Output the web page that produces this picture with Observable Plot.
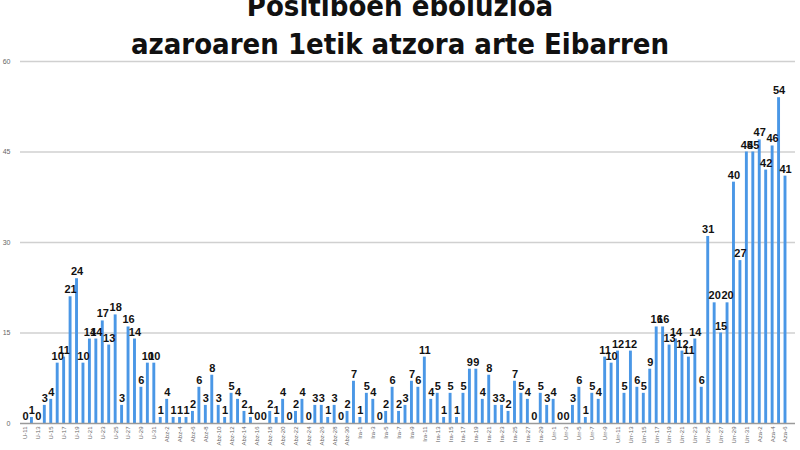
<!DOCTYPE html>
<html>
<head>
<meta charset="utf-8">
<script src="https://cdn.jsdelivr.net/npm/d3@7"></script>
<script src="https://cdn.jsdelivr.net/npm/@observablehq/plot@0.6"></script>
<style>
  body { margin: 0; background: #fff; }
  #wrap { position: relative; width: 800px; height: 450px; overflow: hidden; }
  #title {
    position: absolute; left: 0; top: -13px; width: 800px; text-align: center;
    font-family: "DejaVu Sans Condensed", "Liberation Sans Narrow", Roboto, sans-serif;
    font-weight: bold; font-size: 29px; line-height: 38px; color: #111;
  }
</style>
</head>
<body>
<div id="wrap">
  <div id="chart"></div>
  <div id="title">Positiboen eboluzioa<br>azaroaren 1etik atzora arte Eibarren</div>
</div>
<script>
const days = [
  "U-11","U-12","U-13","U-14","U-15","U-16","U-17","U-18","U-19","U-20","U-21","U-22","U-23","U-24","U-25","U-26","U-27","U-28","U-29","U-30","U-31",
  "Abz-1","Abz-2","Abz-3","Abz-4","Abz-5","Abz-6","Abz-7","Abz-8","Abz-9","Abz-10","Abz-11","Abz-12","Abz-13","Abz-14","Abz-15","Abz-16","Abz-17","Abz-18","Abz-19","Abz-20","Abz-21","Abz-22","Abz-23","Abz-24","Abz-25","Abz-26","Abz-27","Abz-28","Abz-29","Abz-30","Abz-31",
  "Ira-1","Ira-2","Ira-3","Ira-4","Ira-5","Ira-6","Ira-7","Ira-8","Ira-9","Ira-10","Ira-11","Ira-12","Ira-13","Ira-14","Ira-15","Ira-16","Ira-17","Ira-18","Ira-19","Ira-20","Ira-21","Ira-22","Ira-23","Ira-24","Ira-25","Ira-26","Ira-27","Ira-28","Ira-29","Ira-30",
  "Urr-1","Urr-2","Urr-3","Urr-4","Urr-5","Urr-6","Urr-7","Urr-8","Urr-9","Urr-10","Urr-11","Urr-12","Urr-13","Urr-14","Urr-15","Urr-16","Urr-17","Urr-18","Urr-19","Urr-20","Urr-21","Urr-22","Urr-23","Urr-24","Urr-25","Urr-26","Urr-27","Urr-28","Urr-29","Urr-30","Urr-31",
  "Aza-1","Aza-2","Aza-3","Aza-4","Aza-5","Aza-6"
];
const positives = [
  0,1,0,3,4,10,11,21,24,10,14,14,17,13,18,3,16,14,6,10,10,
  1,4,1,1,1,2,6,3,8,3,1,5,4,2,1,0,0,2,1,4,0,2,4,0,3,3,1,3,0,2,
  7,1,5,4,0,2,6,2,3,7,6,11,4,5,1,5,1,5,9,9,4,8,3,3,2,7,5,4,0,5,
  3,4,0,0,3,6,1,5,4,11,10,12,5,12,6,5,9,16,16,13,14,12,11,14,6,31,20,15,20,40,27,
  45,45,47,42,46,54,41
];
const yTicks = [0, 15, 30, 45, 60];
const shownDays = days.filter((d, i) => i % 2 === 0);

const data = days.map((d, i) => ({day: d, value: positives[i]}));

const chart = Plot.plot({
  width: 800,
  height: 450,
  marginTop: 61,
  marginBottom: 27,
  marginLeft: 20,
  marginRight: 5,
  style: {fontFamily: "Liberation Sans, Arial, sans-serif", background: "#fff"},
  x: {domain: days, range: [20, 790], padding: 0.55, label: null},
  y: {domain: [0, 60], label: null},
  marks: [
    Plot.ruleY(yTicks.filter(t => t > 0), {stroke: "#d0d0d0", strokeWidth: 1.5}),
    Plot.barY(data, {x: "day", y: "value", fill: "#4a97e6"}),
    Plot.ruleY([0], {stroke: "#9a9a9a", strokeWidth: 1.5}),
    Plot.text(data, {x: "day", y: "value", text: d => String(d.value), dy: -7,
      fontSize: 11, fontWeight: "bold", fill: "#111"}),
    Plot.axisY({ticks: yTicks, tickSize: 0, tickPadding: 10, fontSize: 7, color: "#666"}),
    Plot.axisX({ticks: shownDays, tickSize: 0, tickRotate: -90, tickPadding: 3, fontSize: 6, color: "#666"})
  ]
});
document.getElementById("chart").appendChild(chart);
</script>
</body>
</html>
